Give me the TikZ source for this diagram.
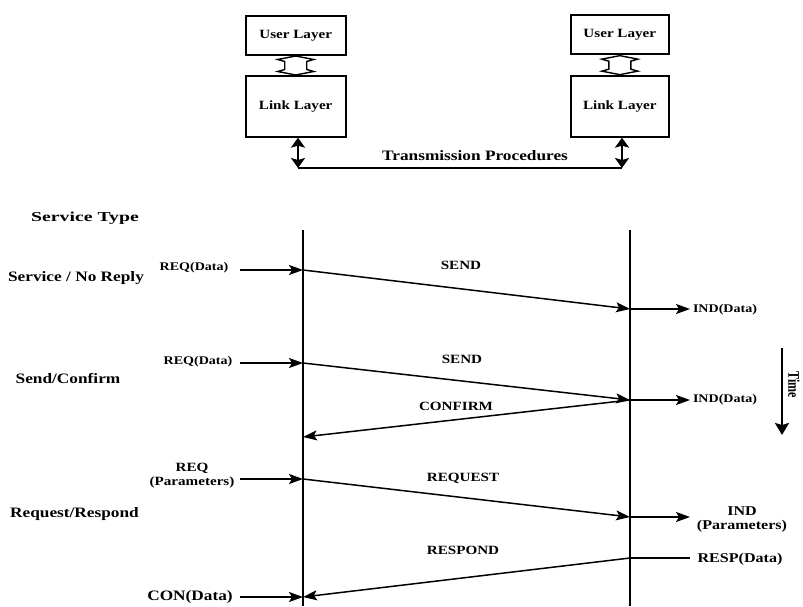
\documentclass[tikz,border=0pt]{standalone}
\usepackage{fontspec}
\setmainfont[FakeStretch=1.2]{Liberation Serif}
\newfontfamily\headfont[FakeStretch=1.45]{Liberation Serif}
\newfontfamily\plainfont{Liberation Serif}
\usetikzlibrary{arrows.meta,calc}

% font sizes
\newcommand\fsS{\fontsize{11.7}{13}\selectfont}
\newcommand\fsM{\fontsize{12.6}{14}\selectfont}
\newcommand\fsL{\fontsize{13.4}{14}\selectfont}
\newcommand\fsXL{\fontsize{14.4}{16}\selectfont}

\tikzset{
  layerbox/.style={draw, line width=2pt, inner sep=0pt, font=\fsM\bfseries},
  lbl/.style={inner sep=0pt, font=\bfseries},
  lblS/.style={lbl, font=\fsS\bfseries},
  lblM/.style={lbl, font=\fsM\bfseries},
  lblL/.style={lbl, font=\fsL\bfseries, align=center},
  lblXL/.style={lbl, font=\fsXL\bfseries},
  lifeline/.style={line width=2pt},
  msg/.style={line width=1.5pt, -{Stealth[length=14pt,width=10pt,inset=3pt]}},
  plainline/.style={line width=1.5pt},
  bidir/.style={line width=2.2pt, {Stealth[length=10pt,width=14pt,inset=2pt]}-{Stealth[length=10pt,width=14pt,inset=2pt]}},
  timearrow/.style={line width=2pt, -{Stealth[length=12pt,width=14pt,inset=2pt]}},
  hollowarrow/.pic={
    \draw[line width=1.4pt, fill=white]
      (0,-9.5) -- (18,-6) -- (11,-4) -- (11,4) -- (18,6) -- (0,9.5)
      -- (-18,6) -- (-11,4) -- (-11,-4) -- (-18,-6) -- cycle;
  }
}

\begin{document}
\begin{tikzpicture}[x=1pt,y=-1pt]
\useasboundingbox (0,0) rectangle (803,607);

% ---- protocol layers ----
\node[layerbox, minimum width=100pt, minimum height=39.5pt] (uL) at (295.7,35.3) {User Layer};
\node[layerbox, minimum width=100pt, minimum height=60.7pt] (lL) at (295.7,106.3) {Link Layer};
\node[layerbox, minimum width=97.7pt, minimum height=39.3pt] (uR) at (619.8,34.7) {User Layer};
\node[layerbox, minimum width=97.7pt, minimum height=60.7pt] (lR) at (619.8,106.3) {Link Layer};

\pic at ($(uL.south)!0.5!(lL.north)$) {hollowarrow};
\pic at ($(uR.south)!0.5!(lR.north)$) {hollowarrow};

\coordinate (tpL) at (298,168);
\coordinate (tpR) at (622,168);
\draw[bidir] (tpL |- lL.south) -- (tpL);
\draw[bidir] (tpR |- lR.south) -- (tpR);
\draw[plainline] (tpL) -- (tpR);
\node[lblXL] (tp) at (475,156) {Transmission Procedures};

% ---- service types ----
\node[lbl, font=\headfont\fontsize{13.6}{16}\selectfont\bfseries] (st) at (85,218) {Service Type};
\node[lblXL] (r1) at (76,278) {Service / No Reply};
\node[lblXL] (r2) at (68,378) {Send/Confirm};
\node[lblXL] (r3) at (74.5,514) {Request/Respond};

% ---- lifelines ----
\coordinate (Atop) at (303,230);
\coordinate (Abot) at (303,606);
\coordinate (Btop) at (630,230);
\coordinate (Bbot) at (630,606);
\draw[lifeline] (Atop) -- (Abot);
\draw[lifeline] (Btop) -- (Bbot);

% event points on the lifelines
\coordinate (a1) at (303,270);
\coordinate (b1) at (630,309);
\coordinate (a2) at (303,363);
\coordinate (b2) at (630,400);
\coordinate (a3) at (303,437);
\coordinate (a4) at (303,479);
\coordinate (b4) at (630,517);
\coordinate (b5) at (630,558);
\coordinate (a5) at (303,597);

% free ends of the primitives
\coordinate (in1) at (240,270);
\coordinate (in2) at (240,363);
\coordinate (in4) at (240,479);
\coordinate (in5) at (240,597);
\coordinate (out1) at (690,309);
\coordinate (out2) at (690,400);
\coordinate (out4) at (690,517);
\coordinate (out5) at (690,558);

% service / no reply
\node[lblS] (req1) at (194,268) {REQ(Data)};
\draw[msg] (in1) -- (a1);
\draw[msg] (a1) -- (b1);
\node[lblM] (send1) at (461,265) {SEND};
\draw[msg] (b1) -- (out1);
\node[lblS] (ind1) at (725,310) {IND(Data)};

% send / confirm
\node[lblS] (req2) at (198,362) {REQ(Data)};
\draw[msg] (in2) -- (a2);
\draw[msg] (a2) -- (b2);
\node[lblM] (send2) at (462,359) {SEND};
\draw[msg] (b2) -- (out2);
\node[lblS] (ind2) at (725,400) {IND(Data)};
\draw[msg] (b2) -- (a3);
\node[lblM] (conf) at (456,406) {CONFIRM};

% request / respond
\node[lblM, align=center] (req4) at (192,476) {REQ\\(Parameters)};
\draw[msg] (in4) -- (a4);
\draw[msg] (a4) -- (b4);
\node[lblM] (reqm) at (463,478) {REQUEST};
\draw[msg] (b4) -- (out4);
\node[lblL] (ind4) at (742,520) {IND\\(Parameters)};
\draw[plainline] (b5) -- (out5);
\node[lblL] (resp) at (740,559) {RESP(Data)};
\draw[msg] (b5) -- (a5);
\node[lblM] (respm) at (463,550) {RESPOND};
\node[lblXL] (con) at (190,597) {CON(Data)};
\draw[msg] (in5) -- (a5);

% time axis
\coordinate (t0) at (782,348);
\coordinate (t1) at (782,435);
\draw[timearrow] (t0) -- (t1);
\node[inner sep=0pt, rotate=-90, font=\plainfont\fontsize{12}{14}\selectfont\bfseries] (time) at (794,385) {\scalebox{1}[1.35]{Time}};
\end{tikzpicture}
\end{document}
